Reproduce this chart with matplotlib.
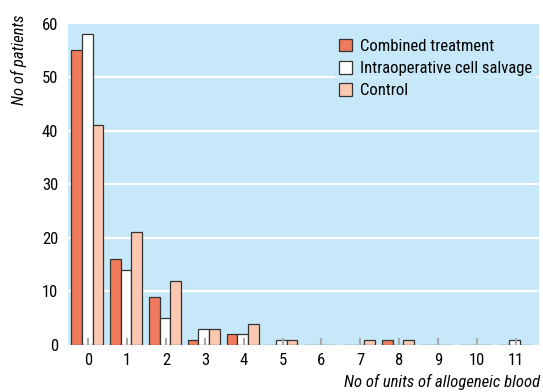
import numpy as np
import matplotlib.pyplot as plt

plt.rcParams['font.family'] = ['Roboto Condensed', 'DejaVu Sans']

units = np.arange(12)
combined = [55, 16, 9, 1, 2, 0, 0, 0, 1, 0, 0, 0]
salvage = [58, 14, 5, 3, 2, 1, 0, 0, 0, 0, 0, 1]
control = [41, 21, 12, 3, 4, 1, 0, 1, 1, 0, 0, 0]
labels = ["Combined treatment", "Intraoperative cell salvage", "Control"]

fig = plt.figure(figsize=(5.43, 3.92), dpi=100)
ax = fig.add_axes([0.125, 0.12, 0.868, 0.82])
ax.set_facecolor('#c6e8f8')

w = 0.275
ec = '#333333'
ax.bar(units - w - 0.03, combined, w, color='#f07a5c', edgecolor=ec, linewidth=0.9, label=labels[0], zorder=2)
ax.bar(units - 0.03, salvage, w, color='white', edgecolor=ec, linewidth=0.9, label=labels[1], zorder=2)
ax.bar(units + w - 0.03, control, w, color='#fcc8b2', edgecolor=ec, linewidth=0.9, label=labels[2], zorder=2)

for y in range(10, 60, 10):
    ax.axhline(y, color='white', lw=1.6, zorder=1)

ax.set_xlim(-0.53, 11.61)
ax.set_ylim(0, 60)
ax.set_xticks(units)
ax.set_yticks(range(0, 61, 10))
ax.tick_params(axis='x', direction='in', length=5, width=1.5, color='#aaaaaa', labelsize=12, pad=6)
ax.tick_params(axis='y', length=0, labelsize=12, pad=7)
for s in ax.spines.values():
    s.set_visible(False)
ax.set_axisbelow(False)
for t in ax.xaxis.get_major_ticks():
    t.tick1line.set_zorder(3)

leg = ax.legend(loc='upper right', bbox_to_anchor=(0.987, 0.91), bbox_transform=fig.transFigure,
                frameon=True, fancybox=False, fontsize=12, borderpad=0.2, borderaxespad=0,
                handlelength=0.8, handleheight=0.8, handletextpad=0.5, labelspacing=0.42)
leg.get_frame().set_facecolor('#c6e8f8')
leg.get_frame().set_edgecolor('none')

fig.text(0.035, 0.962, "No of patients", rotation=90, ha='center', va='top', style='italic', fontsize=12)
fig.text(0.995, 0.026, "No of units of allogeneic blood", ha='right', va='center', style='italic', fontsize=12)

plt.savefig("out.png")
